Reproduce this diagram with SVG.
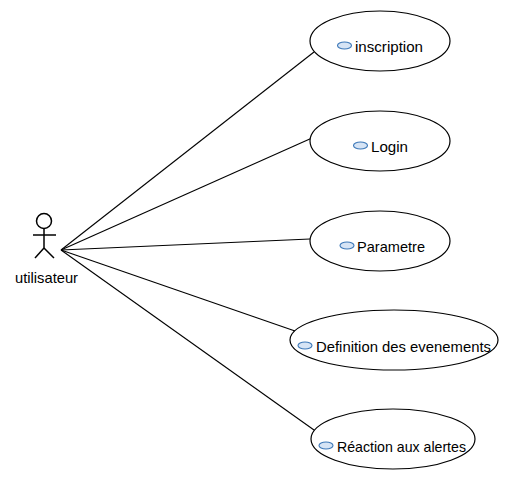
<svg xmlns="http://www.w3.org/2000/svg" width="508" height="480" viewBox="0 0 508 480">
<style>
.uc{fill:#fff;stroke:#000;stroke-width:1.2}
.ic{fill:#d6e4f5;stroke:#3d78b8;stroke-width:1.1}
.t{font-family:"Liberation Sans",Arial,sans-serif;font-size:15px;fill:#000}
.c line{stroke:#000;stroke-width:1.1}
.a{fill:none;stroke:#000;stroke-width:1.5}
</style>
<rect width="508" height="480" fill="#fff"/>
<g class="c" id="connectors">
<line x1="61" y1="250" x2="314" y2="52"/>
<line x1="61" y1="250" x2="312" y2="138"/>
<line x1="61" y1="250" x2="310" y2="239"/>
<line x1="61" y1="250" x2="295" y2="331"/>
<line x1="61" y1="250" x2="314" y2="430"/>
</g>
<g id="actor">
<circle class="a" cx="44" cy="221" r="7.5"/>
<line class="a" x1="44" y1="228.5" x2="44" y2="248"/>
<line class="a" x1="33" y1="235" x2="56" y2="235"/>
<line class="a" x1="44" y1="248" x2="35" y2="258"/>
<line class="a" x1="44" y1="248" x2="54" y2="258"/>
<text class="t" x="15" y="283" textLength="63" lengthAdjust="spacingAndGlyphs">utilisateur</text>
</g>
<g id="uc1">
<ellipse class="uc" cx="380" cy="41" rx="70" ry="30"/>
<ellipse class="ic" cx="344.5" cy="45.5" rx="7" ry="3.5"/>
<text class="t" x="355" y="52" textLength="68" lengthAdjust="spacingAndGlyphs">inscription</text>
</g>
<g id="uc2">
<ellipse class="uc" cx="380" cy="141" rx="70" ry="30"/>
<ellipse class="ic" cx="360.5" cy="145.5" rx="7" ry="3.5"/>
<text class="t" x="371" y="152" textLength="37" lengthAdjust="spacingAndGlyphs">Login</text>
</g>
<g id="uc3">
<ellipse class="uc" cx="380" cy="241" rx="70" ry="30"/>
<ellipse class="ic" cx="347" cy="245.5" rx="7" ry="3.5"/>
<text class="t" x="357" y="252" textLength="68" lengthAdjust="spacingAndGlyphs">Parametre</text>
</g>
<g id="uc4">
<ellipse class="uc" cx="394" cy="340" rx="104" ry="30"/>
<ellipse class="ic" cx="305" cy="345.5" rx="7" ry="3.5"/>
<text class="t" x="316" y="352" textLength="175" lengthAdjust="spacingAndGlyphs">Definition des evenements</text>
</g>
<g id="uc5">
<ellipse class="uc" cx="393" cy="439" rx="82" ry="30"/>
<ellipse class="ic" cx="326" cy="445.5" rx="7" ry="3.5"/>
<text class="t" x="337" y="452" textLength="129" lengthAdjust="spacingAndGlyphs">Réaction aux alertes</text>
</g>
</svg>
